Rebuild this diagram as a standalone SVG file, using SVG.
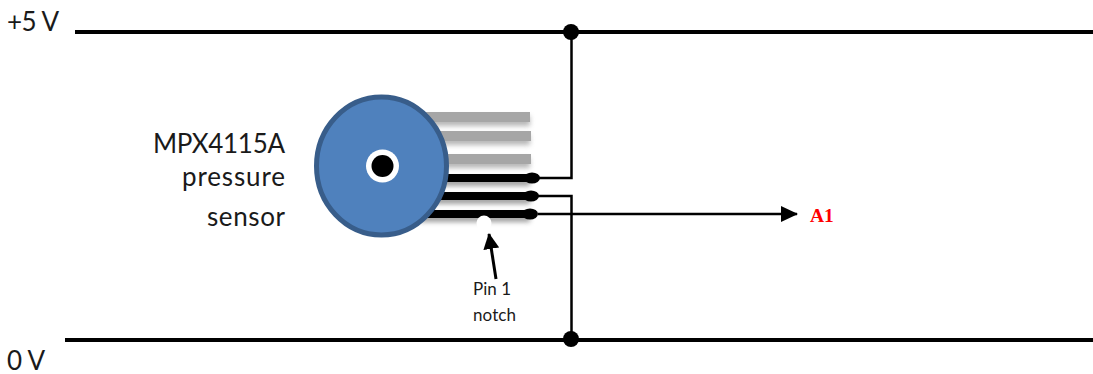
<svg xmlns="http://www.w3.org/2000/svg" width="1093" height="374" viewBox="0 0 1093 374">
<style>
.rail{stroke:#000;stroke-width:4;fill:none}
.wire{stroke:#000;stroke-width:2.5;fill:none}
.lbl{font-family:"Lato","Open Sans",sans-serif;fill:#1a1a1a}
.big{font-size:26px}
.small{font-size:17px}
.gray{stroke:#a6a6a6;stroke-width:10;fill:none}
.pin{stroke:#000;stroke-width:8;fill:none}
</style>
<defs>
<filter id="sh" x="-10%" y="-100%" width="120%" height="350%"><feGaussianBlur stdDeviation="2.5"/></filter>
<marker id="ah" markerUnits="userSpaceOnUse" markerWidth="18" markerHeight="16" refX="16" refY="8" orient="auto"><path d="M0 0L17 8L0 16Z" fill="#000"/></marker>
<marker id="ah2" markerUnits="userSpaceOnUse" markerWidth="16" markerHeight="16" refX="15" refY="8" orient="auto"><path d="M0 0L16 8L0 16Z" fill="#000"/></marker>
</defs>
<g id="connectors">
<path class="rail" d="M75 32H1093"/>
<path class="rail" d="M65 340H1093"/>
<path class="wire" d="M538 178H571.500V32"/>
<path class="wire" d="M538 196H571.500V340"/>
<path class="wire" d="M538 214H797" marker-end="url(#ah)"/>
<path d="M496 279L489 234" stroke="#000" stroke-width="3" fill="none" marker-end="url(#ah2)"/>
<circle cx="571" cy="32" r="8"/>
<circle cx="571" cy="339" r="8"/>
</g>
<g id="label-5v"><text class="lbl big" x="7" y="31" textLength="52">+5 V</text></g>
<g id="label-0v"><text class="lbl big" x="7" y="370" textLength="38">0 V</text></g>
<g id="sensor-label">
<text class="lbl big" x="153" y="153" textLength="132">MPX4115A</text>
<text class="lbl big" x="182" y="186" textLength="103">pressure</text>
<text class="lbl big" x="207" y="226" textLength="78">sensor</text>
</g>
<g id="sensor">
<g filter="url(#sh)" opacity="0.7" transform="translate(0,4)">
<path class="gray" d="M420 117H530M420 136H530M420 159H530" style="stroke:#999"/>
<path class="pin" d="M420 178H530M420 196H530M420 214H530" style="stroke:#777"/>
</g>
<path class="gray" d="M420 117H530M420 136H531M420 159H531"/>
<path class="pin" d="M420 178H530M420 196H530M420 214H530"/>
<ellipse cx="532" cy="178" rx="8" ry="5.500"/>
<ellipse cx="531" cy="196" rx="8" ry="5.500"/>
<ellipse cx="530" cy="214" rx="8" ry="5.500"/>
<circle cx="484" cy="223" r="7.500" fill="#fff"/>
<ellipse cx="381.500" cy="166" rx="65" ry="69" fill="#4f81bd" stroke="#385d8a" stroke-width="5"/>
<circle cx="382.500" cy="166" r="16.500" fill="#fff"/>
<circle cx="382.500" cy="166" r="11"/>
</g>
<g id="pin1-label">
<text class="lbl small" x="473" y="295" textLength="38">Pin 1</text>
<text class="lbl small" x="473" y="321" textLength="43">notch</text>
</g>
<g id="a1-label"><text x="810" y="222" font-family="Liberation Serif,serif" font-weight="bold" font-size="19.500" fill="#f00">A1</text></g>
</svg>
